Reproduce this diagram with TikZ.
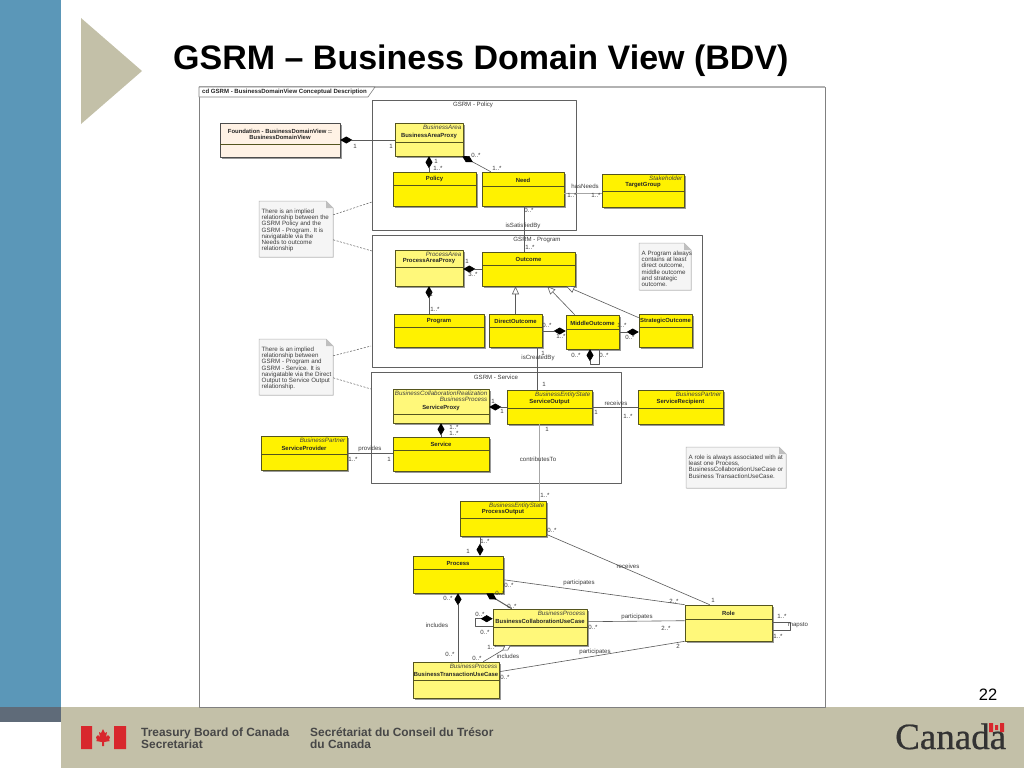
\documentclass[tikz,border=0pt]{standalone}
\usepackage{fontspec}
\setmainfont{Liberation Sans}
\newfontfamily\serifword[FakeBold=0.6]{Liberation Serif}
\usetikzlibrary{arrows.meta,fit,shadows}
\definecolor{barblue}{HTML}{5B97B8}
\definecolor{bandgray}{HTML}{5F6B79}
\definecolor{beige}{HTML}{C3C0A8}
\definecolor{flagred}{HTML}{D8272D}
\definecolor{boxedge}{HTML}{55551E}
\definecolor{wire}{HTML}{5A5A5A}
\definecolor{ink}{HTML}{3C3C3C}
\tikzset{
	classbase/.style={draw=boxedge, line width=0.6pt, inner sep=0pt, drop shadow={shadow xshift=1.5pt, shadow yshift=-1.5pt, fill=black!40, opacity=1}},
	fullbox/.style={classbase, fill=yellow},
	paleox/.style={classbase, fill=yellow!52},
	creambox/.style={classbase, fill=orange!10!white, draw=black!70},
	packagebox/.style={draw=black!62, line width=0.7pt},
	titletext/.style={font=\bfseries\fontsize{5.9}{6}\selectfont, text=black!85, inner sep=0pt},
	stereotext/.style={font=\itshape\fontsize{6.2}{6}\selectfont, text=black!75, inner sep=0pt, align=right},
	smalltext/.style={font=\fontsize{6.1}{6}\selectfont, text=ink, inner sep=0pt},
	notetext/.style={font=\fontsize{6.2}{6.3}\selectfont, text=ink, inner sep=0pt, align=left},
	notebody/.style={fill=black!4, draw=black!30, line width=0.5pt, drop shadow={shadow xshift=0.6pt, shadow yshift=-0.6pt, fill=black!20, opacity=1}},
	conn/.style={draw=wire, line width=0.6pt},
	pale/.style={draw=black!35, line width=0.9pt},
	hint/.style={draw=wire, line width=0.5pt, dash pattern=on 2pt off 1.5pt},
	comp/.style={conn, {Diamond[length=12pt, width=7pt, black]}-},
	gen/.style={conn, -{Triangle[open, length=8pt, width=7pt, fill=white]}},
	agg/.style={conn, {Diamond[open, length=10pt, width=6pt, fill=white]}-},
}
% box name, style, x1, y1, x2, y2, line below header, stereotype, title
\newcommand{\umlbox}[9]{
	\node[#2, fit={(#3,#4)(#5,#6)}] (#1) {};
	\draw[draw=boxedge, line width=0.6pt] (#3,#7) -- (#5,#7);
	\node[titletext] (#1-title) at ({(#3+#5)/2},#7-6) {#9};
	\node[stereotext, anchor=north east] (#1-stereo) at (#5-1.5,#4+2) {#8};
}
% note name, x1, y1, x2, y2, text
\newcommand{\umlnote}[6]{
	\node[fit={(#2,#3)(#4,#5)}, inner sep=0pt] (#1) {};
	\path[notebody] (#2,#3) -- (#4-7,#3) -- (#4,#3+7) -- (#4,#5) -- (#2,#5) -- cycle;
	\fill[black!25] (#4-7,#3) -- (#4,#3+7) -- (#4-7,#3+7) -- cycle;
	\node[notetext, anchor=north west] (#1-text) at (#2+2.5,#3+7.5) {#6};
}
\begin{document}
\begin{tikzpicture}[x=1pt, y=-1pt, line join=round]
	\useasboundingbox (0,0) rectangle (1024,768);
	% slide background
	\fill[barblue] (0,0) rectangle (61,707);
	\fill[bandgray] (0,707) rectangle (61,722);
	\fill[beige] (61,707) rectangle (1024,768);
	\fill[beige] (81,18) -- (142,71) -- (81,124) -- cycle;
	\node[anchor=base west, inner sep=0pt, font=\bfseries\fontsize{34}{35}\selectfont] (slidetitle) at (173,69) {GSRM – Business Domain View (BDV)};
	\node[font=\fontsize{16.5}{17}\selectfont, inner sep=0pt] (pageno) at (988,694.5) {22};
	% footer flag and wordmark
	\fill[flagred] (81,726) rectangle (92,749) (114,726) rectangle (126,749);
	\fill[flagred] (103,729) -- (105,733) -- (107,732) -- (106,737) -- (108,735) -- (110,737) -- (109,740) -- (110,741) -- (104,742) -- (104,746) -- (102,746) -- (102,742) -- (96,741) -- (97,740) -- (96,737) -- (98,735) -- (100,737) -- (99,732) -- (101,733) -- cycle;
	\node[anchor=north west, inner sep=0pt, align=left, text=black!72, font=\bfseries\fontsize{11.9}{12.3}\selectfont] (tbsen) at (141,727.5) {Treasury Board of Canada\\Secretariat};
	\node[anchor=north west, inner sep=0pt, align=left, text=black!72, font=\bfseries\fontsize{11.9}{12.3}\selectfont] (tbsfr) at (310,727.5) {Secrétariat du Conseil du Trésor\\du Canada};
	\node[anchor=base west, inner sep=0pt, text=black!80, font=\serifword\fontsize{37}{38}\selectfont] (canada) at (895,749) {Canada};
	\fill[flagred] (989,723) rectangle (993,732) (1000,723) rectangle (1004,732) (995,725) rectangle (998,730);
	% diagram frame
	\fill[white] (199,87) rectangle (825,707);
	\draw[black!50, line width=0.8pt] (199,87) rectangle (825,707);
	\draw[black!30, line width=2pt] (199,87) -- (825,87);
	\draw[fill=white, draw=black!50, line width=0.6pt] (199,87) -- (375,87) -- (368,97) -- (199,97) -- cycle;
	\node[anchor=west, inner sep=0pt, font=\bfseries\fontsize{6.05}{6}\selectfont, text=black!85] (framelabel) at (202,91.5) {cd GSRM - BusinessDomainView Conceptual Description};
	% packages
	\draw[packagebox] (372,100) rectangle (576,230);
	\draw[packagebox] (372,235) rectangle (702,367);
	\draw[packagebox] (371,372) rectangle (621,483);
	\node[smalltext] (policypkg) at (473,105) {GSRM - Policy};
	\node[smalltext] (programpkg) at (537,240) {GSRM - Program};
	\node[smalltext] (servicepkg) at (496,377) {GSRM - Service};
	% classes
	\umlbox{bdv}{creambox}{220}{123}{340}{157}{144}{}{}
	\node[titletext, align=center] (bdv-name) at (280,134) {Foundation - BusinessDomainView ::\\BusinessDomainView};
	\umlbox{bap}{paleox}{395}{123}{463}{156}{142}{BusinessArea}{BusinessAreaProxy}
	\umlbox{policy}{fullbox}{393}{172}{476}{206}{185}{}{Policy}
	\umlbox{need}{fullbox}{482}{172}{564}{206}{186}{}{Need}
	\umlbox{targetgroup}{fullbox}{602}{174}{684}{207}{191}{Stakeholder}{TargetGroup}
	\umlbox{pap}{paleox}{395}{250}{463}{286}{267}{ProcessArea}{ProcessAreaProxy}
	\umlbox{outcome}{fullbox}{482}{252}{575}{286}{265}{}{Outcome}
	\umlbox{program}{fullbox}{394}{314}{484}{347}{327}{}{Program}
	\umlbox{direct}{fullbox}{489}{314}{542}{347}{327}{}{DirectOutcome}
	\umlbox{middle}{fullbox}{566}{315}{619}{349}{329}{}{MiddleOutcome}
	\umlbox{strategic}{fullbox}{639}{314}{692}{347}{327}{}{StrategicOutcome}
	\umlbox{proxy}{paleox}{393}{389}{489}{423}{414}{BusinessCollaborationRealization\\BusinessProcess}{ServiceProxy}
	\umlbox{output}{fullbox}{507}{390}{592}{424}{408}{BusinessEntityState}{ServiceOutput}
	\umlbox{recipient}{fullbox}{638}{390}{723}{424}{408}{BusinessPartner}{ServiceRecipient}
	\umlbox{provider}{fullbox}{261}{436}{347}{470}{454}{BusinessPartner}{ServiceProvider}
	\umlbox{service}{fullbox}{393}{437}{489}{471}{450}{}{Service}
	\umlbox{procout}{fullbox}{460}{501}{546}{536}{518}{BusinessEntityState}{ProcessOutput}
	\umlbox{process}{fullbox}{413}{556}{503}{593}{569}{}{Process}
	\umlbox{bcuc}{paleox}{493}{609}{587}{645}{627}{BusinessProcess}{BusinessCollaborationUseCase}
	\umlbox{btuc}{paleox}{413}{662}{499}{698}{680}{BusinessProcess}{BusinessTransactionUseCase}
	\umlbox{role}{paleox}{685}{605}{772}{641}{619}{}{Role}
	% notes
	\umlnote{noteone}{259}{201}{333}{257}{There is an implied\\relationship between the\\GSRM Policy and the\\GSRM - Program.  It is\\navigatable via the\\Needs to outcome\\relationship}
	\umlnote{notetwo}{259}{339}{333}{395}{There is an implied\\relationship between\\GSRM - Program and\\GSRM - Service.  It is\\navigatable via the Direct\\Output to Service Output\\relationship.}
	\umlnote{notethree}{639}{243}{691}{290}{A Program always\\contains at least\\direct outcome,\\middle outcome\\and strategic\\outcome.}
	\umlnote{notefour}{686}{447}{786}{488}{A role is always associated with at\\least one Process,\\BusinessCollaborationUseCase or\\Business TransactionUseCase.}
	\draw[hint] ([yshift=-14pt]noteone.north east) -- (372,202);
	\draw[hint] ([yshift=-39pt]noteone.north east) -- (372,251);
	\draw[hint] ([yshift=-17pt]notetwo.north east) -- (371,346);
	\draw[hint] ([yshift=-39pt]notetwo.north east) -- (371,389);
	% connectors
	\draw[comp] (bdv.east) -- (bdv.east -| bap.west);
	\draw[comp] (bap.south) -- (bap.south |- policy.north);
	\draw[comp] ([xshift=-1pt]bap.south east) -- ([xshift=9pt]need.north west);
	\draw[pale] ([yshift=-4pt]need.east) -- ([yshift=-4pt]need.east -| targetgroup.west);
	\draw[conn] ([xshift=1pt]need.south) -- ([xshift=1pt]need.south |- outcome.north);
	\draw[comp] ([yshift=-1pt]pap.east) -- ([yshift=-1pt]pap.east -| outcome.west);
	\draw[comp] (pap.south) -- (pap.south |- program.north);
	\draw[gen] (direct.north) -- (direct.north |- outcome.south);
	\draw[gen] ([xshift=9pt]middle.north west) -- ([xshift=-28pt]outcome.south east);
	\draw[gen] ([yshift=-4pt]strategic.north west) -- ([xshift=-9pt]outcome.south east);
	\draw[comp] ([yshift=1pt]middle.west) -- ([yshift=1pt]middle.west -| direct.east);
	\draw[comp] ([yshift=-1.5pt]strategic.west) -- ([yshift=-1.5pt]strategic.west -| middle.east);
	\draw[comp] ([xshift=-2.5pt]middle.south) -- ++(0,15) -- ++(9,0) -- ([xshift=6.5pt]middle.south);
	\draw[conn] ([xshift=21.5pt]direct.south) -- ([xshift=21.5pt]direct.south |- output.north);
	\draw[comp] ([yshift=-1pt]proxy.east) -- ([yshift=-1pt]proxy.east -| output.west);
	\draw[comp] (proxy.south) -- (proxy.south |- service.north);
	\draw[conn] (provider.east) -- (provider.east -| service.west);
	\draw[conn] (output.east) -- (output.east -| recipient.west);
	\draw[pale] ([xshift=-10.5pt]output.south) -- ([xshift=-10.5pt]output.south |- procout.north);
	\draw[comp] ([xshift=22pt]process.north) -- ([xshift=22pt]process.north |- procout.south);
	\draw[conn] ([yshift=2pt]procout.south east) -- ([xshift=25pt]role.north west);
	\draw[conn] ([yshift=-24pt]process.north east) -- (role.north west);
	\draw[comp, line width=1pt] ([xshift=-17pt]process.south east) -- ([xshift=19pt]bcuc.north west);
	\draw[comp] (process.south) -- (process.south |- btuc.north);
	\draw[comp] ([yshift=-10pt]bcuc.north west) -- ++(-17,0) -- ++(0,8) -- ([yshift=-18pt]bcuc.north west);
	\draw[agg] ([xshift=18pt]bcuc.south west) -- ([xshift=-16pt]btuc.north east);
	\draw[conn] ([yshift=-13pt]bcuc.north east) -- ([yshift=-16pt]role.north west);
	\draw[conn] ([yshift=-10pt]btuc.north east) -- (role.south west);
	\draw[conn] ([yshift=-18pt]role.north east) -- ++(18,0) -- ++(0,8) -- ([yshift=-26pt]role.north east);
	% association labels and multiplicities
	\foreach \x/\y/\t [count=\n] in {355/146/1, 391/146/1, 476/155/{0..*}, 436/161/1, 438/168/{1..*}, 497/168/{1..*},
		585/186/hasNeeds, 572/195/{1..*}, 596/195/{1..*}, 529/210/{0..*}, 523/226/isSatisfiedBy, 530/247/{1..*},
		467/261/1, 473/274/{3..*}, 431/294/1, 435/309/{1..*}, 547/325/{0..*}, 561/336/{1..*}, 622/325/{1..*}, 630/337/{0..*},
		576/355/{0..*}, 604/355/{0..*}, 543/353/1, 538/358/isCreatedBy, 544/384/1, 493/401/1, 502/411/1, 596/412/1,
		616/403/receives, 628/416/{1..*}, 547/429/1, 538/459/contributesTo, 545/495/{1..*}, 454/427/{1..*}, 454/433/{1..*},
		370/449/provides, 353/459/{1..*}, 389/459/1, 552/530/{0..*}, 485/541/{1..*}, 468/551/1, 509/585/{0..*}, 500/593/{0..*},
		512/606/{0..*}, 448/598/{0..*}, 480/614/{0..*}, 485/632/{0..*}, 437/625/includes, 450/654/{0..*}, 477/658/{0..*},
		492/647/{1..*}, 508/656/includes, 595/652/participates, 593/627/{0..*}, 505/677/{0..*}, 579/583/participates,
		628/566/receives, 674/601/{2..*}, 713/600/1, 637/617/participates, 666/628/{2..*}, 678/646/2, 782/616/{1..*},
		798/625/mapsto, 778/636/{1..*}}
		\node[smalltext] (lab\n) at (\x,\y) {\t};
\end{tikzpicture}
\end{document}
